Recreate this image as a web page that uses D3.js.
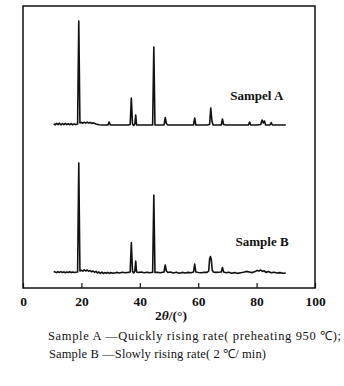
<!DOCTYPE html>
<html><head><meta charset="utf-8">
<script src="https://cdn.jsdelivr.net/npm/d3@7"></script>
<style>
html,body{margin:0;padding:0;background:#fff;}
svg{display:block;}
text{font-family:"Liberation Serif","Times New Roman",serif;fill:#111;}
</style></head>
<body><svg id="chart" width="344" height="386"></svg>
<script>
// ---------- data ----------
const xTicks = [0, 20, 40, 60, 80, 100];
const seriesNames = ["Sampel A", "Sample B"];
const seriesOffsets = [152, 4];   // vertical stacking offset (a.u.)

// Sample A : [2theta, intensity]
const sampleA = [
  [10.5,12],[11,11.2],[11.5,12.6],[12,11.4],[12.5,12.8],[13,11.2],[13.5,12.5],[14,11.3],[14.5,12.6],[15,11.4],
  [15.5,12.2],[16,11.3],[16.5,12.4],[17,11.2],[17.5,12],[18,11.4],[18.7,12],[19.1,115],[19.5,13],[20,13.6],
  [20.5,12.8],[21,13.8],[21.5,12.9],[22,13.9],[22.5,13],[23,13.6],[23.5,12.6],[24,13.2],[25,12],[26,11.2],
  [27,11],[28,11],[29.1,11],[29.5,14],[29.9,11],[31,11],[32,11],[33,11],[34,11],[35,11],
  [36,11],[36.7,11.5],[37.1,38],[37.5,12],[37.9,10.5],[38.3,12],[38.6,21],[38.9,11],[39.5,11],[41,11],
  [43,11],[44.4,11],[44.8,89],[45.2,11],[46,11],[47,11],[48.3,11],[48.7,18.5],[49.1,12.5],[49.6,11],
  [51,11],[53,11],[55,11],[57,11],[58.4,11],[58.8,18],[59.2,11],[61,11],[63,11],[63.9,11.5],
  [64.3,28],[64.7,15],[65.1,11],[66,11],[67.9,11],[68.3,17],[68.7,11.5],[69.5,11],[72,11],[75,11],
  [77.2,11],[77.6,14],[78,11],[80,11],[81.4,11.5],[81.9,16],[82.3,13],[82.7,15],[83.1,11],[84.6,11],
  [85,13.5],[85.4,11],[87,11],[90,11]
];

// Sample B : [2theta, intensity]
const sampleB = [
  [10.5,12.5],[11,12],[11.5,11.4],[12,12.2],[12.5,11.6],[13,12.4],[13.5,11.5],[14,12.1],[14.5,11.3],[15,12],
  [15.5,11.5],[16,12.3],[16.5,11.4],[17,12],[17.5,11.5],[18,11.8],[18.7,12],[19.1,121],[19.5,13],[20,13.8],
  [20.5,12.9],[21,14.2],[21.5,13],[22,14],[22.5,12.8],[23,13.5],[23.5,12.2],[24,13],[24.5,11.8],[25,12.6],
  [25.5,11],[26,12],[26.5,10.6],[27,11.8],[27.5,10.5],[28,11.4],[28.5,10.8],[29,11.6],[29.5,10.6],[30,11.4],
  [31,10.8],[32,11.6],[33,11],[34,11.8],[35,11.2],[36,11.6],[36.7,12],[37.1,41.5],[37.5,12.5],[37.9,11],
  [38.3,13],[38.6,23],[38.9,12],[39.5,11.5],[40.5,12],[41.5,11.2],[42.5,11.8],[43.5,11.2],[44.4,11.8],[44.8,89],
  [45.2,11.5],[46,11.8],[47,11.2],[48.3,12],[48.7,19],[49.1,13],[49.6,11.5],[50.5,12],[51.5,11],[52.5,11.8],
  [53.5,10.8],[54.5,11.6],[55.5,11],[56.5,11.6],[57.5,11.2],[58.4,12],[58.8,20],[59.2,12],[60,11.5],[61,11.2],
  [62,11.8],[63,11.6],[63.6,13],[63.9,25],[64.2,27.5],[64.5,24],[64.8,14],[65.2,12],[66,11.6],[67.9,12],
  [68.3,16.5],[68.7,12],[69.5,11.2],[70.5,11.8],[71.5,10.8],[72.5,11.4],[73.5,10.6],[74.5,11.2],[75.5,11.8],[76.5,12.6],
  [77.5,12],[78.5,11.4],[79.5,12.4],[80.2,13.6],[80.8,13],[81.4,14],[82,12.6],[82.6,13.2],[83.2,11.6],[84,12.4],
  [85,11.2],[86,11.8],[87,11],[88,11.4],[89,10.8],[90,11]
];
const allSeries = [sampleA, sampleB];

// ---------- layout ----------
const svg = d3.select("#chart");
const mLeft = 23, mRight = 315, mTop = 6, mBottom = 288;

const x = d3.scaleLinear().domain([0, 100]).range([mLeft, mRight]);
const y = d3.scaleLinear().domain([0, 282]).range([mBottom, mTop]);

// frame
svg.append("rect")
  .attr("x", mLeft).attr("y", mTop)
  .attr("width", mRight - mLeft).attr("height", mBottom - mTop)
  .attr("fill", "none").attr("stroke", "#111").attr("stroke-width", 1.5);

// bottom axis: inward ticks
const axis = d3.axisBottom(x).tickValues(xTicks).tickSizeInner(-5).tickSizeOuter(0).tickPadding(8);
const gx = svg.append("g").attr("transform", `translate(0,${mBottom})`).call(axis);
gx.select(".domain").remove();
gx.selectAll(".tick line").attr("stroke", "#111").attr("stroke-width", 1.2);
gx.selectAll(".tick text")
  .attr("font-family", "Liberation Serif, serif")
  .attr("font-size", 13.5).attr("font-weight", "bold").attr("fill", "#111");

// series lines
const line = d3.line()
  .x(d => x(d[0]))
  .y(d => y(d[1]));

allSeries.forEach((s, i) => {
  svg.append("path")
    .datum(s.map(d => [d[0], d[1] + seriesOffsets[i]]))
    .attr("d", line)
    .attr("fill", "none")
    .attr("stroke", "#111")
    .attr("stroke-width", 1.6)
    .attr("stroke-linejoin", "round");
});

// series labels
const labelPos = [[71, 36], [72.8, 38]]; // in data coords: [2theta, intensity above offset]
seriesNames.forEach((n, i) => {
  svg.append("text")
    .attr("x", x(labelPos[i][0])).attr("y", y(labelPos[i][1] + seriesOffsets[i]))
    .attr("font-size", 13).attr("font-weight", "bold")
    .text(n);
});

// axis title 2θ/(°)
const t = svg.append("text")
  .attr("x", (mLeft + mRight) / 2 + 2).attr("y", 320)
  .attr("text-anchor", "middle")
  .attr("font-size", 13.5).attr("font-weight", "bold");
t.append("tspan").text("2");
t.append("tspan").attr("font-style", "italic").text("θ");
t.append("tspan").text("/(°)");

// caption
svg.append("text").attr("x", 48).attr("y", 340)
  .attr("font-size", 12.5)
  .attr("textLength", 293).attr("lengthAdjust", "spacing")
  .text("Sample A —Quickly rising rate( preheating 950 ℃);");
svg.append("text").attr("x", 49).attr("y", 358)
  .attr("font-size", 12.5)
  .attr("textLength", 217).attr("lengthAdjust", "spacing")
  .text("Sample B —Slowly rising rate( 2 ℃/ min)");
</script>
</body></html>
